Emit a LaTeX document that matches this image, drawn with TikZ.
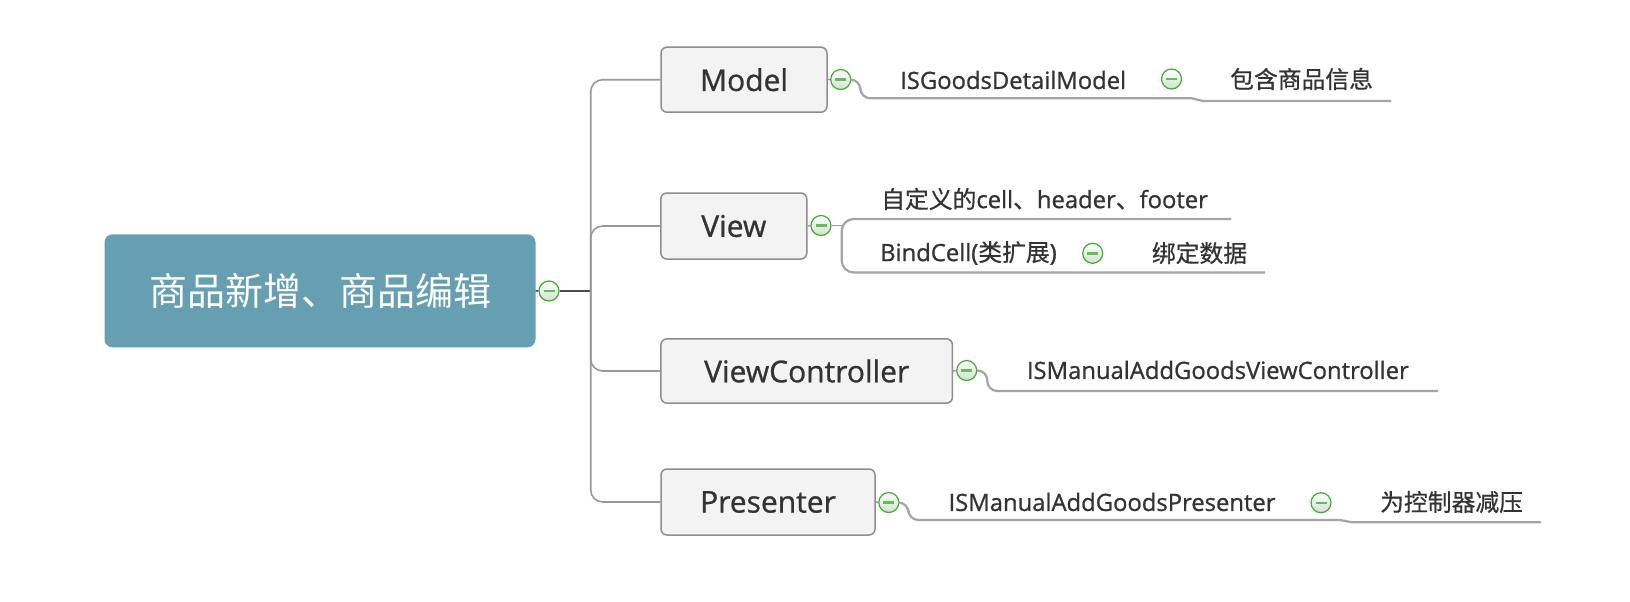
\documentclass[tikz,border=0pt]{standalone}
\usepackage{fontspec}
\setmainfont{Open Sans}[FakeBold=0.9]
\newfontfamily\cjk{Noto Sans CJK SC}[FakeBold=0.6]
\newfontfamily\cjkroot{Noto Sans CJK SC}
\definecolor{rootblue}{HTML}{679FB2}
\definecolor{boxgray}{HTML}{F3F3F3}
\definecolor{edgegray}{HTML}{8E8E8E}
\definecolor{linegray}{HTML}{999999}
\definecolor{ulgray}{HTML}{A4A4A4}
\definecolor{tgreen}{HTML}{3DAE2B}
\definecolor{tfill}{HTML}{D0E0D0}
\definecolor{txt}{HTML}{333333}

\begin{document}
\begin{tikzpicture}[yscale=-1
  ,pstyle0/.style={draw=edgegray,fill=boxgray,line width=1.5pt,rounded corners=6pt,inner sep=0pt,text=txt,font=\fontsize{30pt}{36pt}\selectfont}
  ,pstyle1/.style={color=linegray,line width=1.6pt}
  ,pstyle2/.style={color=ulgray,line width=2.2pt}
  ,pstyle3/.style={circle,draw=tgreen,line width=1.2pt,top color=white,bottom color=tfill,minimum size=20pt,inner sep=0pt,
     path picture={\draw[tgreen!80!white,line width=2.4pt] ([xshift=-5.5pt]path picture bounding box.center) -- ([xshift=5.5pt]path picture bounding box.center);}}
  ,pstyle4/.style={fill=rootblue,rounded corners=8pt,inner sep=0pt,text=white,font=\cjkroot\fontsize{38pt}{44pt}\selectfont}
  ,pstyle5/.style={color=black!70,line width=1.6pt}
  ,ptext/.style={anchor=west,inner sep=0pt,text=txt,font=\fontsize{23.8pt}{28pt}\selectfont}
]
\path[fill=white,use as bounding box] (0pt,0pt) rectangle (1630pt,602pt);

% --- Central topic ---
\node[pstyle4,minimum width=431pt,minimum height=113pt] (root) at (320pt,290.8pt) {商品新增、商品编辑};

% --- Main topics ---
\node[pstyle0,minimum width=166pt,minimum height=65pt] (mdl) at (744pt,79.7pt) {Model};
\node[pstyle0,minimum width=146pt,minimum height=66pt] (vw) at (733.8pt,226pt) {View};
\node[pstyle0,minimum width=291.5pt,minimum height=64.3pt] (vc) at (806.7pt,371pt) {ViewController};
\node[pstyle0,minimum width=214pt,minimum height=66pt] (prs) at (768pt,502pt) {Presenter};

% --- Collapse buttons ---
\node[pstyle3] (t0) at (549pt,291pt) {};
\node[pstyle3] (tmdl) at (840.7pt,79.5pt) {};
\node[pstyle3] (tvw) at (821pt,225.5pt) {};
\node[pstyle3] (tvc) at (966.7pt,370.5pt) {};
\node[pstyle3] (tprs) at (888.8pt,502.5pt) {};
\node[pstyle3] (tmdlA) at (1171.5pt,79pt) {};
\node[pstyle3] (tvwB) at (1092.7pt,253.3pt) {};
\node[pstyle3] (tprsA) at (1321pt,502.7pt) {};

% --- Subtopics ---
\node[ptext] (mdlA) at (900pt,80pt) {ISGoodsDetailModel};
\node[ptext] (mdlB) at (1230pt,79pt) {\cjk 包含商品信息};
\node[ptext] (vwA) at (881pt,199pt) {{\cjk 自定义的}cell{\cjk 、}header{\cjk 、}footer};
\node[ptext] (vwB) at (880pt,253pt) {BindCell({\cjk 类扩展})};
\node[ptext] (vwC) at (1151.7pt,253pt) {\cjk 绑定数据};
\node[ptext] (vcA) at (1026.7pt,370pt) {ISManualAddGoodsViewController};
\node[ptext] (prsA) at (948.4pt,502pt) {ISManualAddGoodsPresenter};
\node[ptext] (prsB) at (1380pt,502pt) {\cjk 为控制器减压};

% --- Branches from the central topic ---
\coordinate (fork) at (590.7pt,291pt);
\draw[pstyle5] (root.east) -- (t0.west);
\draw[pstyle5] (t0.east) -- (fork);
\foreach \b in {mdl,vw,vc,prs}
  \draw[pstyle1,rounded corners=12pt] (fork) |- (\b.west);
\foreach \b in {mdl,vw,vc,prs}
  \draw[pstyle1] (\b.east) -- (t\b.west);

% --- Underlines of the subtopics ---
\coordinate (mdlAend) at (1192pt,98.3pt);
\coordinate (mdlBend) at (1391pt,101pt);
\draw[pstyle2,rounded corners=10pt] (tmdl.east) -- ++(9pt,0pt) |- (mdlAend);
\draw[pstyle2] (mdlAend) -- ++(11pt,2.7pt) -- (mdlBend);

\coordinate (vwfork) at (841.7pt,225.5pt);
\coordinate (vwAend) at (1231pt,219pt);
\coordinate (vwBend) at (1265pt,272.5pt);
\draw[pstyle1] (tvw.east) -- (vwfork);
\draw[pstyle2,rounded corners=12pt] (vwAend) -| (vwfork |- vwBend) -- (vwBend);

\coordinate (vcAend) at (1438pt,391pt);
\draw[pstyle2,rounded corners=10pt] (tvc.east) -- ++(10pt,0pt) |- (vcAend);

\coordinate (prsAend) at (1340pt,520pt);
\coordinate (prsBend) at (1541pt,522.3pt);
\draw[pstyle2,rounded corners=10pt] (tprs.east) -- ++(9pt,0pt) |- (prsAend);
\draw[pstyle2] (prsAend) -- ++(12pt,2.3pt) -- (prsBend);

\end{tikzpicture}
\end{document}
